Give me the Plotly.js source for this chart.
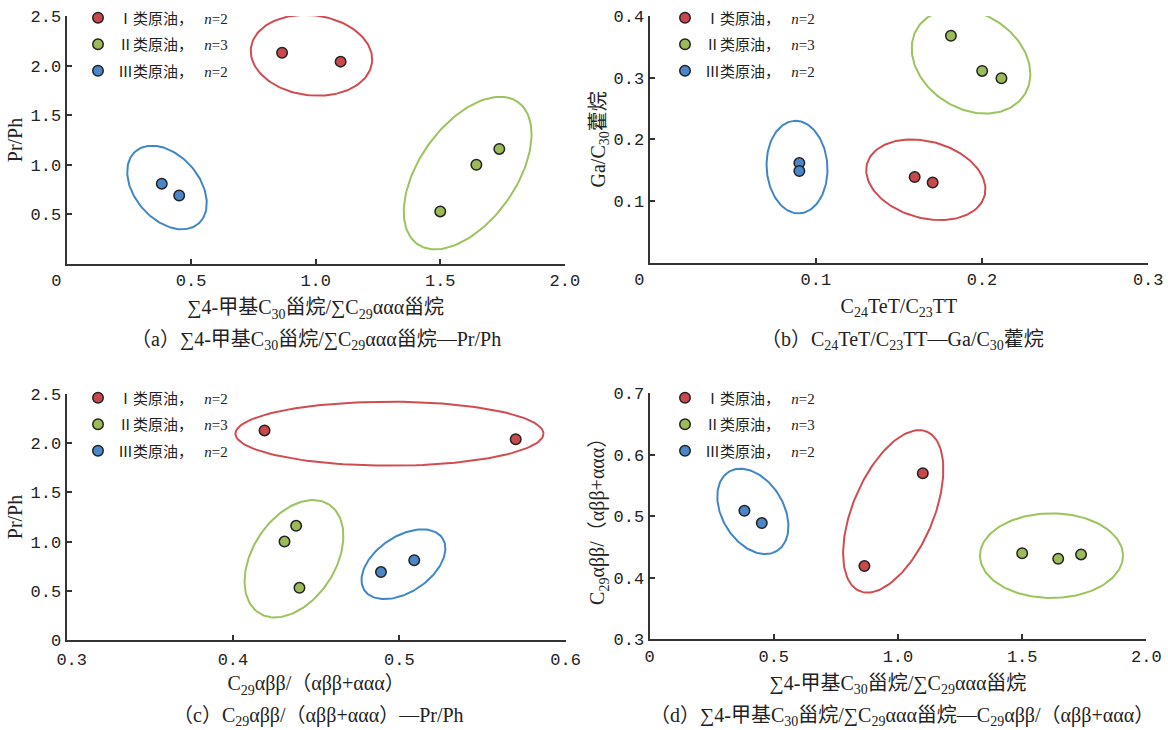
<!DOCTYPE html>
<html><head><meta charset="utf-8">
<script src="https://cdn.plot.ly/plotly-3.0.1.min.js"></script>
<style>html,body{margin:0;padding:0;background:#fff}#chart{width:1168px;height:730px}</style>
</head><body><div id="chart"></div>
<script>
// ---------------- DATA ----------------
const classNames = ['Ⅰ类原油', 'Ⅱ类原油', 'Ⅲ类原油'];
const sampleCounts = [2, 3, 2];

// Σ4-甲基C30甾烷/ΣC29ααα甾烷
const steraneI = [0.865, 1.10];
const steraneII = [1.50, 1.645, 1.737];
const steraneIII = [0.382, 0.452];
// Pr/Ph
const prphI = [2.13, 2.04];
const prphII = [0.53, 1.00, 1.16];
const prphIII = [0.81, 0.69];
// C29αββ/(αββ+ααα)
const c29I = [0.419, 0.570];
const c29II = [0.440, 0.431, 0.438];
const c29III = [0.509, 0.489];
// C24TeT/C23TT
const tetI = [0.1595, 0.1703];
const tetII = [0.1813, 0.2001, 0.2117];
const tetIII = [0.0901, 0.0901];
// Ga/C30藿烷
const gaI = [0.139, 0.130];
const gaII = [0.368, 0.311, 0.299];
const gaIII = [0.1616, 0.1486];

// tick values / labels
const tickSterane = [0, 0.5, 1.0, 1.5, 2.0];
const tickSteraneText = ['0\u00a0\u00a0', '0.5', '1.0', '1.5', '2.0'];
const tickSteraneTextD = ['0', '0.5', '1.0', '1.5', '2.0'];
const tickPrphA = [0.5, 1.0, 1.5, 2.0, 2.5];
const tickPrphAText = ['0.5', '1.0', '1.5', '2.0', '2.5'];
const tickPrphC = [0, 0.5, 1.0, 1.5, 2.0, 2.5];
const tickPrphCText = ['0', '0.5', '1.0', '1.5', '2.0', '2.5'];
const tickTet = [0, 0.1, 0.2, 0.3];
const tickTetText = ['0\u00a0\u00a0', '0.1', '0.2', '0.3'];
const tickGa = [0.1, 0.2, 0.3, 0.4];
const tickGaText = ['0.1', '0.2', '0.3', '0.4'];
const tickC29X = [0.3, 0.4, 0.5, 0.6];
const tickC29XText = ['\u00a00.3', '0.4', '0.5', '0.6'];
const tickC29Y = [0.3, 0.4, 0.5, 0.6, 0.7];
const tickC29YText = ['0.3', '0.4', '0.5', '0.6', '0.7'];

// ---------------- STYLE ----------------
const W = 1168, H = 730;
const markerColors = ['#c8484b', '#9bbb59', '#4a86c8'];
const ellipseColors = ['#d04c50', '#9cc35c', '#3f86c9'];
const serif = 'Liberation Serif, "Noto Sans CJK SC", serif';
const mono = 'Liberation Mono, monospace';
const txtColor = '#222';

const panels = [
  { xa: 'xaxis', ya: 'yaxis', x: 'x', y: 'y', legend: 'legend',
    xdom: [66.6, 564.8], ydom: [264, 16], xr: [0, 2], yr: [0, 2.5],
    xs: [steraneI, steraneII, steraneIII], ys: [prphI, prphII, prphIII],
    xt: [tickSterane, tickSteraneText], yt: [tickPrphA, tickPrphAText],
    xtitle: '∑4-甲基C<sub>30</sub>甾烷/∑C<sub>29</sub>ααα甾烷', ytitle: 'Pr/Ph',
    legPos: [99, 14.5], xstand: 0,
    caption: '（a）∑4-甲基C<sub>30</sub>甾烷/∑C<sub>29</sub>ααα甾烷—Pr/Ph', capPos: [316, 340],
    ell: [ {cx:0.983, cy:2.104, rx:61, ry:40, ang:7},
           {cx:1.610, cy:0.917, rx:87, ry:48.3, ang:-54.7},
           {cx:0.403, cy:0.771, rx:47.9, ry:32.1, ang:48.7} ] },
  { xa: 'xaxis2', ya: 'yaxis2', x: 'x2', y: 'y2', legend: 'legend2',
    xdom: [649.6, 1148.2], ydom: [262.7, 16], xr: [0, 0.3], yr: [0, 0.4],
    xs: [tetI, tetII, tetIII], ys: [gaI, gaII, gaIII],
    xt: [tickTet, tickTetText], yt: [tickGa, tickGaText],
    xtitle: 'C<sub>24</sub>TeT/C<sub>23</sub>TT', ytitle: 'Ga/C<sub>30</sub>藿烷',
    legPos: [686, 14.5], xstand: 0,
    caption: '（b）C<sub>24</sub>TeT/C<sub>23</sub>TT—Ga/C<sub>30</sub>藿烷', capPos: [902, 340],
    ell: [ {cx:0.1662, cy:0.1345, rx:60.9, ry:38.3, ang:15.4},
           {cx:0.1934, cy:0.3266, rx:63.1, ry:47.6, ang:31.3},
           {cx:0.0887, cy:0.155, rx:46.3, ry:30.4, ang:86.7} ] },
  { xa: 'xaxis3', ya: 'yaxis3', x: 'x3', y: 'y3', legend: 'legend3',
    xdom: [66.6, 565.6], ydom: [640, 394], xr: [0.3, 0.6], yr: [0, 2.5],
    xs: [c29I, c29II, c29III], ys: [prphI, prphII, prphIII],
    xt: [tickC29X, tickC29XText], yt: [tickPrphC, tickPrphCText],
    xtitle: 'C<sub>29</sub>αββ/（αββ+ααα）', ytitle: 'Pr/Ph',
    legPos: [99, 394.5], xstand: 3,
    caption: '（c）C<sub>29</sub>αββ/（αββ+ααα）—Pr/Ph', capPos: [318, 716],
    ell: [ {cx:0.4941, cy:2.097, rx:154, ry:32, ang:0},
           {cx:0.4367, cy:0.826, rx:64.6, ry:41.4, ang:-57.1},
           {cx:0.5025, cy:0.770, rx:46.9, ry:27.8, ang:-33.8} ] },
  { xa: 'xaxis4', ya: 'yaxis4', x: 'x4', y: 'y4', legend: 'legend4',
    xdom: [649.5, 1146.4], ydom: [639.3, 393.3], xr: [0, 2], yr: [0.3, 0.7],
    xs: [steraneI, steraneII, steraneIII], ys: [c29I, c29II, c29III],
    xt: [tickSterane, tickSteraneTextD], yt: [tickC29Y, tickC29YText],
    xtitle: '∑4-甲基C<sub>30</sub>甾烷/∑C<sub>29</sub>ααα甾烷', ytitle: 'C<sub>29</sub>αββ/（αββ+ααα）',
    legPos: [686, 394.5], xstand: 0,
    caption: '（d）∑4-甲基C<sub>30</sub>甾烷/∑C<sub>29</sub>ααα甾烷—C<sub>29</sub>αββ/（αββ+ααα）', capPos: [902, 716],
    ell: [ {cx:0.981, cy:0.508, rx:86.5, ry:40.3, ang:-67.1},
           {cx:1.618, cy:0.436, rx:71.5, ry:42.3, ang:0},
           {cx:0.416, cy:0.508, rx:46.3, ry:30.7, ang:58.8} ] }
];

const traces = [];
const layout = {
  width: W, height: H, margin: {l:0, r:0, t:0, b:0},
  paper_bgcolor: '#fff', plot_bgcolor: 'rgba(0,0,0,0)',
  showlegend: true, annotations: [], hovermode: 'closest'
};

function axisBase(range, ticks, dom, title, isX) {
  return {
    range: range, domain: dom, autorange: false, fixedrange: true,
    showline: true, linecolor: '#333', linewidth: 2, mirror: false,
    showgrid: false, zeroline: false,
    ticks: 'inside', ticklen: 5, tickwidth: 1.5, tickcolor: '#333',
    tickmode: 'array', tickvals: ticks[0], ticktext: ticks[1],
    tickfont: {family: mono, size: 17, color: txtColor},
    automargin: false,
    title: {text: title, font: {family: serif, size: 20, color: txtColor}, standoff: isX ? 10 : 3}
  };
}

panels.forEach((p, pi) => {
  const xd = [p.xdom[0] / W, p.xdom[1] / W];
  const yd = [1 - p.ydom[0] / H, 1 - p.ydom[1] / H];
  layout[p.xa] = axisBase(p.xr, p.xt, xd, p.xtitle, true);
  layout[p.ya] = axisBase(p.yr, p.yt, yd, p.ytitle, false);
  layout[p.xa].anchor = p.y;
  layout[p.ya].anchor = p.x;
  if (p.xstand) {
    layout[p.xa].ticklabelstandoff = p.xstand;
    layout[p.xa].title.standoff = 10 - p.xstand;
  }

  const pxX = (p.xdom[1] - p.xdom[0]) / (p.xr[1] - p.xr[0]);
  const pxY = (p.ydom[0] - p.ydom[1]) / (p.yr[1] - p.yr[0]);

  // enclosing ellipses
  p.ell.forEach((e, k) => {
    const ex = [], ey = [];
    const th = e.ang * Math.PI / 180;
    for (let i = 0; i <= 144; i++) {
      const t = 2 * Math.PI * i / 144;
      const dx = e.rx * Math.cos(t) * Math.cos(th) - e.ry * Math.sin(t) * Math.sin(th);
      const dy = e.rx * Math.cos(t) * Math.sin(th) + e.ry * Math.sin(t) * Math.cos(th);
      ex.push(e.cx + dx / pxX);
      ey.push(e.cy - dy / pxY);
    }
    traces.push({
      type: 'scatter', mode: 'lines', x: ex, y: ey, xaxis: p.x, yaxis: p.y,
      line: {color: ellipseColors[k], width: 2}, hoverinfo: 'skip',
      showlegend: false, cliponaxis: false
    });
  });

  // data points
  for (let k = 0; k < 3; k++) {
    traces.push({
      type: 'scatter', mode: 'markers', x: p.xs[k], y: p.ys[k],
      xaxis: p.x, yaxis: p.y, legend: p.legend, legendgroup: 'g' + pi + k,
      name: classNames[k] + '，\u00a0\u00a0\u00a0<i>n</i>=' + sampleCounts[k],
      marker: {color: markerColors[k], size: 10.5, line: {color: '#222', width: 1.5}},
      cliponaxis: false
    });
  }

  layout[p.legend] = {
    x: (p.legPos[0] - 21) / W, y: 1 - (p.legPos[1] - 13) / H,
    xanchor: 'left', yanchor: 'top', bgcolor: 'rgba(0,0,0,0)',
    font: {family: serif, size: 15, color: txtColor},
    tracegroupgap: 4, itemwidth: 30, borderwidth: 0
  };

  layout.annotations.push({
    xref: 'paper', yref: 'paper', x: p.capPos[0] / W, y: 1 - p.capPos[1] / H,
    xanchor: 'center', yanchor: 'middle', showarrow: false,
    text: p.caption, font: {family: serif, size: 20, color: txtColor}
  });
});

Plotly.newPlot('chart', traces, layout, {displayModeBar: false, staticPlot: false});
</script>
</body></html>
